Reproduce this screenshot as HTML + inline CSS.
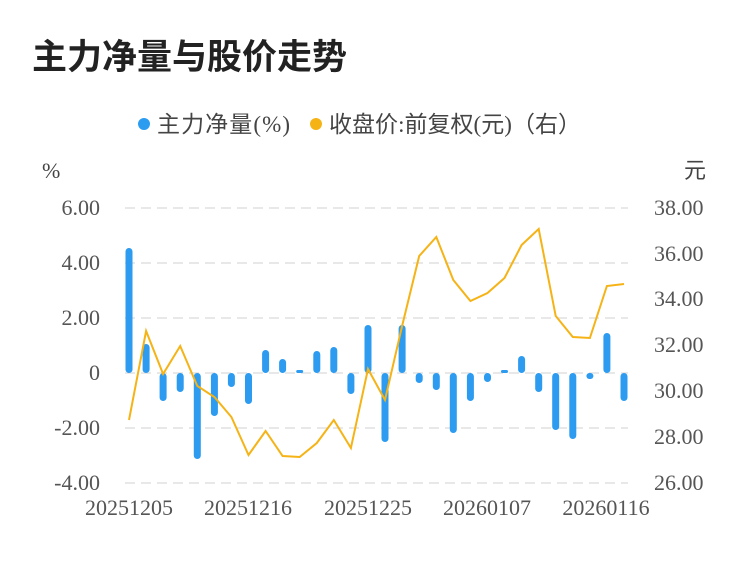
<!DOCTYPE html>
<html><head><meta charset="utf-8"><style>
body{margin:0;background:#fff;width:750px;height:558px;overflow:hidden}
</style></head><body>
<svg width="750" height="558" xmlns="http://www.w3.org/2000/svg" font-family="Liberation Sans, Noto Sans CJK SC, sans-serif">
<text x="32" y="69" font-size="35" font-weight="bold" fill="#222">主力净量与股价走势</text>
<circle cx="144" cy="124" r="6" fill="#2b9cf0"/>
<text x="157" y="132" font-size="23" fill="#444" font-family="Liberation Serif, Noto Sans CJK SC, serif" textLength="133">主力净量(%)</text>
<circle cx="316" cy="124" r="6" fill="#f5b316"/>
<text x="329" y="132" font-size="23" fill="#444" font-family="Liberation Serif, Noto Sans CJK SC, serif" textLength="252">收盘价:前复权(元)（右）</text>
<text x="42" y="178" font-size="22" fill="#444" font-family="Liberation Serif, serif">%</text>
<text x="684" y="178" font-size="22" fill="#444">元</text>
<g stroke="#e8e8e8" stroke-width="2" stroke-dasharray="10,6">
<line x1="125" y1="208" x2="628" y2="208"/><line x1="125" y1="263" x2="628" y2="263"/><line x1="125" y1="318" x2="628" y2="318"/><line x1="125" y1="373" x2="628" y2="373"/><line x1="125" y1="428" x2="628" y2="428"/><line x1="125" y1="483" x2="628" y2="483"/>
</g>
<g font-size="22" fill="#555" text-anchor="end" font-family="Liberation Serif, serif">
<text x="100" y="215">6.00</text><text x="100" y="270">4.00</text><text x="100" y="325">2.00</text><text x="100" y="380">0</text><text x="100" y="435">-2.00</text><text x="100" y="490">-4.00</text>
</g>
<g font-size="22" fill="#555" font-family="Liberation Serif, serif">
<text x="654" y="215">38.00</text><text x="654" y="261">36.00</text><text x="654" y="306">34.00</text><text x="654" y="352">32.00</text><text x="654" y="398">30.00</text><text x="654" y="444">28.00</text><text x="654" y="490">26.00</text>
</g>
<g font-size="22" fill="#555" text-anchor="middle" font-family="Liberation Serif, serif">
<text x="129" y="515">20251205</text><text x="248" y="515">20251216</text><text x="368" y="515">20251225</text><text x="487" y="515">20260107</text><text x="606" y="515">20260116</text>
</g>
<g fill="#2c9bf0">
<rect x="125.5" y="248" width="7" height="125" rx="3.5"/>
<rect x="142.6" y="344" width="7" height="29" rx="3.5"/>
<rect x="159.6" y="373" width="7" height="28" rx="3.5"/>
<rect x="176.7" y="373" width="7" height="19" rx="3.5"/>
<rect x="193.8" y="373" width="7" height="86" rx="3.5"/>
<rect x="210.9" y="373" width="7" height="43" rx="3.5"/>
<rect x="227.9" y="373" width="7" height="14" rx="3.5"/>
<rect x="245.0" y="373" width="7" height="31" rx="3.5"/>
<rect x="262.1" y="350" width="7" height="23" rx="3.5"/>
<rect x="279.1" y="359" width="7" height="14" rx="3.5"/>
<rect x="296.2" y="370" width="7" height="3" rx="1.5"/>
<rect x="313.3" y="351" width="7" height="22" rx="3.5"/>
<rect x="330.3" y="347" width="7" height="26" rx="3.5"/>
<rect x="347.4" y="373" width="7" height="21" rx="3.5"/>
<rect x="364.5" y="325" width="7" height="48" rx="3.5"/>
<rect x="381.5" y="373" width="7" height="69" rx="3.5"/>
<rect x="398.6" y="325" width="7" height="48" rx="3.5"/>
<rect x="415.7" y="373" width="7" height="10" rx="3.5"/>
<rect x="432.8" y="373" width="7" height="17" rx="3.5"/>
<rect x="449.8" y="373" width="7" height="60" rx="3.5"/>
<rect x="466.9" y="373" width="7" height="28" rx="3.5"/>
<rect x="484.0" y="373" width="7" height="9" rx="3.5"/>
<rect x="501.0" y="370" width="7" height="3" rx="1.5"/>
<rect x="518.1" y="356" width="7" height="17" rx="3.5"/>
<rect x="535.2" y="373" width="7" height="19" rx="3.5"/>
<rect x="552.2" y="373" width="7" height="57" rx="3.5"/>
<rect x="569.3" y="373" width="7" height="66" rx="3.5"/>
<rect x="586.4" y="373" width="7" height="6" rx="3"/>
<rect x="603.4" y="333" width="7" height="40" rx="3.5"/>
<rect x="620.5" y="373" width="7" height="28" rx="3.5"/>
</g>
<polyline fill="none" stroke="#f5b316" stroke-width="2" points="129,420 146.1,331 163.1,374 180.2,346 197.3,386 214.4,397 231.4,417 248.5,455 265.6,431 282.6,456 299.7,457 316.8,443 333.8,420 350.9,448 368,369 385,400 402.1,326 419.2,256 436.3,237 453.3,280 470.4,301 487.5,293 504.5,278 521.6,245 538.7,229 555.7,316 572.8,337 589.9,338 606.9,286 624,284"/>
</svg>
</body></html>
